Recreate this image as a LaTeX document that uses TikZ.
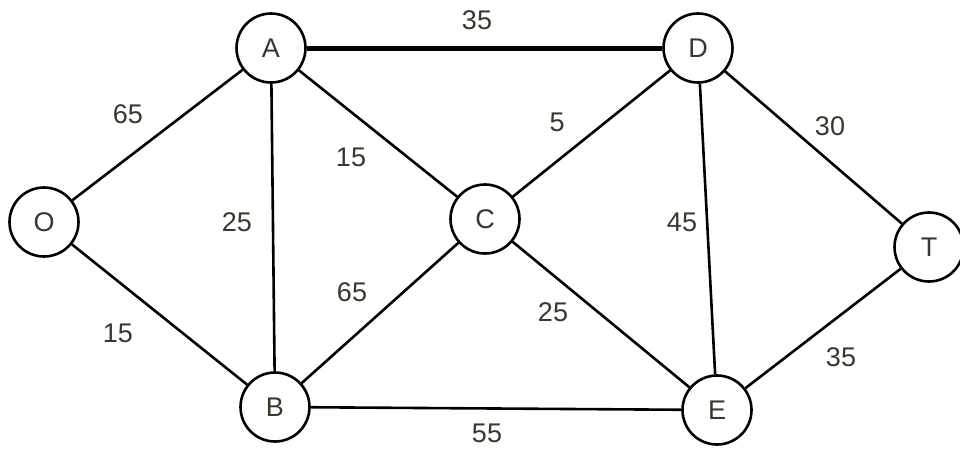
\documentclass[tikz,border=0pt]{standalone}
\usepackage{fontspec}
\setmainfont{Liberation Sans}
\definecolor{inkline}{HTML}{000000}
\definecolor{inktext}{HTML}{38382C}
\begin{document}
\begin{tikzpicture}[x=1pt,y=-1pt,
  vertex/.style={circle,draw=inkline,line width=2.6pt,fill=white,minimum size=69pt,inner sep=0pt,
    text=inktext,font=\fontsize{27}{31}\selectfont},
  edge/.style={draw=inkline,line width=2.6pt},
  heavy/.style={draw=inkline,line width=5pt},
  weight/.style={text=inktext,font=\fontsize{27}{31}\selectfont,inner sep=0pt}]
  \useasboundingbox[fill=white] (0,0) rectangle (960,448);

  % vertices
  \node[vertex] (O) at (44,222) {O};
  \node[vertex] (A) at (271,48) {A};
  \node[vertex] (D) at (698,48) {D};
  \node[vertex] (C) at (485,219) {C};
  \node[vertex] (T) at (929,247) {T};
  \node[vertex] (B) at (275,407) {B};
  \node[vertex] (E) at (717,410) {E};

  % edges
  \draw[edge] (O) -- (A);
  \draw[edge] (O) -- (B);
  \draw[heavy] (A) -- (D);
  \draw[edge] (A) -- (B);
  \draw[edge] (A) -- (C);
  \draw[edge] (B) -- (C);
  \draw[edge] (B) -- (E);
  \draw[edge] (C) -- (D);
  \draw[edge] (C) -- (E);
  \draw[edge] (D) -- (E);
  \draw[edge] (D) -- (T);
  \draw[edge] (E) -- (T);

  % weights
  \node[weight] (wAD) at (477,20) {35};
  \node[weight] (wOA) at (128,114) {65};
  \node[weight] (wAC) at (351,157) {15};
  \node[weight] (wCD) at (557,122) {5};
  \node[weight] (wDT) at (830,126) {30};
  \node[weight] (wAB) at (237,222) {25};
  \node[weight] (wDE) at (682,222) {45};
  \node[weight] (wBC) at (352,292) {65};
  \node[weight] (wCE) at (553,312) {25};
  \node[weight] (wOB) at (118,333) {15};
  \node[weight] (wET) at (841,357) {35};
  \node[weight] (wBE) at (487,433) {55};
\end{tikzpicture}
\end{document}
